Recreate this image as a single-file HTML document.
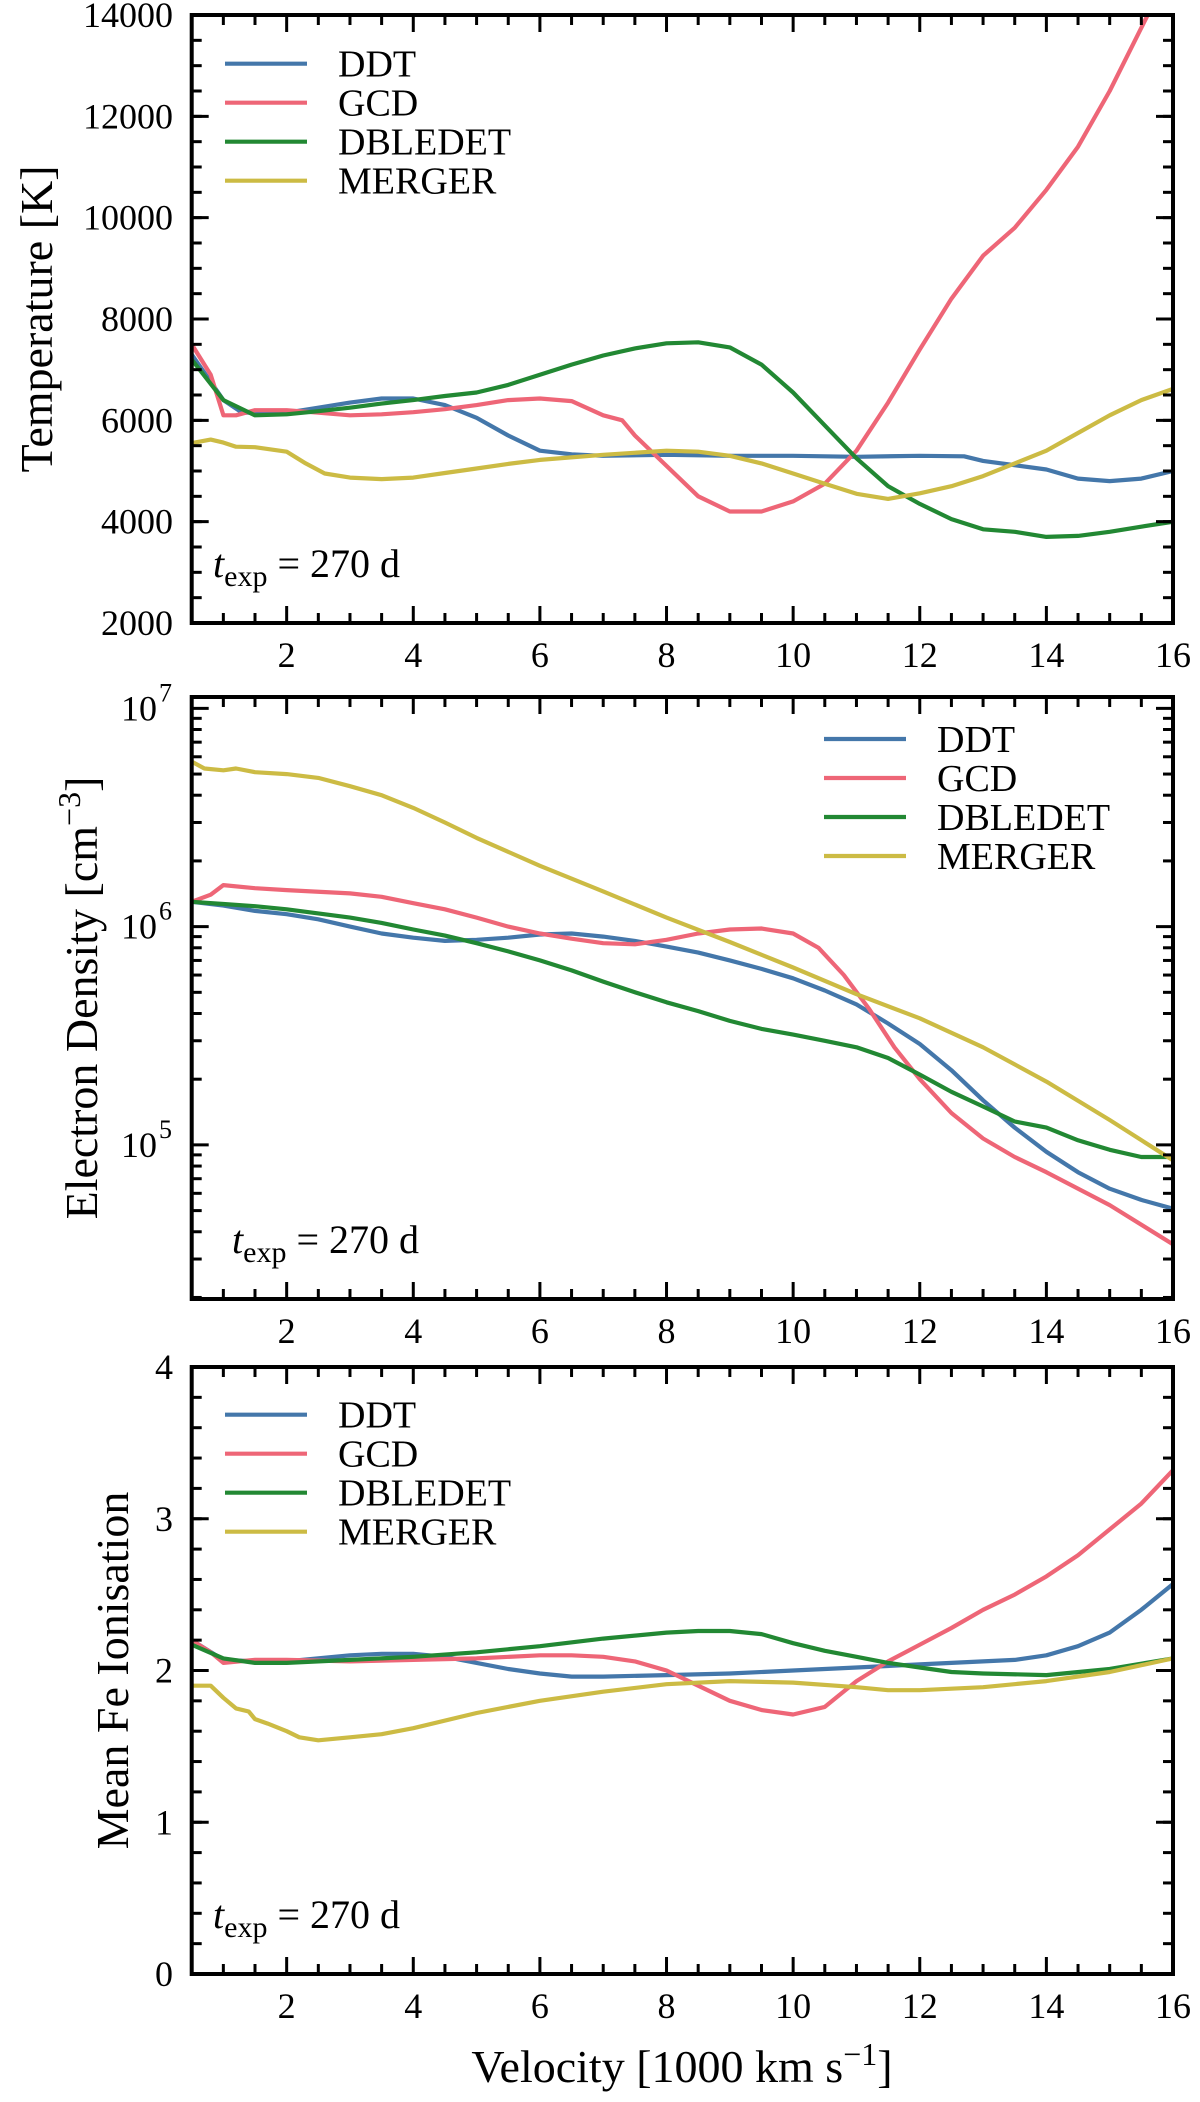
<!DOCTYPE html>
<html><head><meta charset="utf-8"><style>
html,body{margin:0;padding:0;background:#fff}
svg{display:block}
text{font-family:"Liberation Serif","DejaVu Serif",serif;fill:#000}
</style></head><body>
<svg id="fig" width="1200" height="2102" viewBox="0 0 1200 2102" xmlns="http://www.w3.org/2000/svg"></svg>
<script>
// ---- data ----
const seriesNames = ["DDT","GCD","DBLEDET","MERGER"];
const xTicks = [2,4,6,8,10,12,14,16];
const tempTicks = [2000,4000,6000,8000,10000,12000,14000];
const ionTicks = [0,1,2,3,4];
const densTickExps = [5,6,7];

const tempDDT_x=[0.5,1,1.3,2,2.5,3,3.5,4,4.5,5,5.5,6,6.5,7,8,9,10,11,12,12.7,13,14,14.5,15,15.5,16];
const tempDDT_y=[7300,6400,6150,6150,6250,6350,6430,6430,6300,6050,5700,5400,5330,5300,5320,5300,5300,5280,5300,5290,5200,5030,4850,4800,4850,5000];
const tempGCD_x=[0.5,0.8,1,1.2,1.5,2,2.5,3,3.5,4,4.5,5,5.5,6,6.5,7,7.3,7.5,8,8.5,9,9.5,10,10.5,11,11.5,12,12.5,13,13.5,14,14.5,15,15.6];
const tempGCD_y=[7500,6900,6100,6100,6200,6200,6150,6100,6120,6160,6220,6300,6400,6430,6380,6100,6000,5700,5100,4500,4200,4200,4400,4750,5400,6350,7400,8400,9250,9800,10550,11400,12500,14000];
const tempDBL_x=[0.5,1,1.5,2,2.5,3,3.5,4,4.5,5,5.5,6,6.5,7,7.5,8,8.5,9,9.5,10,10.5,11,11.5,12,12.5,13,13.5,14,14.5,15,15.5,16];
const tempDBL_y=[7200,6400,6100,6120,6180,6250,6330,6400,6480,6550,6700,6900,7100,7280,7420,7520,7540,7440,7100,6550,5900,5250,4700,4350,4050,3850,3800,3700,3720,3800,3900,4000];
const tempMER_x=[0.5,0.8,1,1.2,1.5,2,2.3,2.6,3,3.5,4,4.5,5,5.5,6,7,8,8.5,9,9.5,10,10.5,11,11.5,12,12.5,13,13.5,14,14.5,15,15.5,16];
const tempMER_y=[5550,5620,5560,5480,5470,5380,5150,4950,4870,4840,4870,4960,5050,5140,5220,5320,5400,5380,5300,5150,4950,4750,4550,4450,4560,4700,4900,5150,5400,5750,6100,6400,6620];

const densDDT_x=[0.5,1,1.5,2,2.5,3,3.5,4,4.5,5,5.5,6,6.5,7,7.5,8,8.5,9,9.5,10,10.5,11,11.5,12,12.5,13,13.5,14,14.5,15,15.5,16];
const densDDT_y=[1.3e6,1.25e6,1.18e6,1.14e6,1.08e6,1.0e6,9.3e5,8.9e5,8.6e5,8.7e5,8.9e5,9.2e5,9.3e5,9.0e5,8.6e5,8.1e5,7.6e5,7.0e5,6.4e5,5.8e5,5.1e5,4.4e5,3.6e5,2.9e5,2.2e5,1.6e5,1.2e5,9.3e4,7.5e4,6.3e4,5.6e4,5.1e4];
const densGCD_x=[0.5,0.8,1,1.5,2,3,3.5,4,4.5,5,5.5,6,6.5,7,7.5,8,8.5,9,9.5,10,10.4,10.8,11.2,11.6,12,12.5,13,13.5,14,15,16];
const densGCD_y=[1.3e6,1.4e6,1.55e6,1.5e6,1.47e6,1.42e6,1.37e6,1.28e6,1.2e6,1.1e6,1.0e6,9.3e5,8.8e5,8.4e5,8.3e5,8.7e5,9.3e5,9.7e5,9.8e5,9.3e5,8e5,6e5,4.2e5,2.8e5,2.0e5,1.4e5,1.07e5,8.8e4,7.5e4,5.3e4,3.5e4];
const densDBL_x=[0.5,1,1.5,2,2.5,3,3.5,4,4.5,5,5.5,6,6.5,7,7.5,8,8.5,9,9.5,10,10.5,11,11.5,12,12.5,13,13.5,14,14.5,15,15.5,16];
const densDBL_y=[1.3e6,1.27e6,1.24e6,1.2e6,1.15e6,1.1e6,1.04e6,9.7e5,9.1e5,8.4e5,7.7e5,7.0e5,6.3e5,5.6e5,5.0e5,4.5e5,4.1e5,3.7e5,3.4e5,3.2e5,3.0e5,2.8e5,2.5e5,2.1e5,1.75e5,1.5e5,1.28e5,1.2e5,1.05e5,9.5e4,8.8e4,8.8e4];
const densMER_x=[0.5,0.7,1,1.2,1.5,2,2.5,3,3.5,4,4.5,5,6,7,8,9,10,11,12,13,14,15,16];
const densMER_y=[5.7e6,5.3e6,5.2e6,5.3e6,5.1e6,5.0e6,4.8e6,4.4e6,4.0e6,3.5e6,3.0e6,2.55e6,1.9e6,1.45e6,1.1e6,8.5e5,6.5e5,4.9e5,3.8e5,2.8e5,1.95e5,1.3e5,8.5e4];

const ionDDT_x=[0.5,1,1.5,2,2.5,3,3.5,4,4.5,5,5.5,6,6.5,7,8,9,10,11,12,13,13.5,14,14.5,15,15.5,16];
const ionDDT_y=[2.2,2.07,2.06,2.06,2.08,2.1,2.11,2.11,2.09,2.05,2.01,1.98,1.96,1.96,1.97,1.98,2.0,2.02,2.04,2.06,2.07,2.1,2.16,2.25,2.4,2.57];
const ionGCD_x=[0.5,0.8,1,1.5,2,3,4,5,6,6.5,7,7.5,8,8.5,9,9.5,10,10.5,11,11.5,12,12.5,13,13.5,14,14.5,15,15.5,16];
const ionGCD_y=[2.2,2.12,2.05,2.07,2.07,2.06,2.07,2.08,2.1,2.1,2.09,2.06,2.0,1.9,1.8,1.74,1.71,1.76,1.93,2.06,2.17,2.28,2.4,2.5,2.62,2.76,2.93,3.1,3.32];
const ionDBL_x=[0.5,1,1.5,2,3,4,5,6,7,8,8.5,9,9.5,10,10.5,11,11.5,12,12.5,13,14,15,16];
const ionDBL_y=[2.17,2.08,2.05,2.05,2.07,2.09,2.12,2.16,2.21,2.25,2.26,2.26,2.24,2.18,2.13,2.09,2.05,2.02,1.99,1.98,1.97,2.01,2.08];
const ionMER_x=[0.5,0.8,1,1.2,1.4,1.5,1.7,2,2.2,2.5,3,3.5,4,5,6,7,8,9,10,11,11.5,12,13,14,15,16];
const ionMER_y=[1.9,1.9,1.82,1.75,1.73,1.68,1.65,1.6,1.56,1.54,1.56,1.58,1.62,1.72,1.8,1.86,1.91,1.93,1.92,1.89,1.87,1.87,1.89,1.93,1.99,2.08];

// ---- layout ----
const NS="http://www.w3.org/2000/svg";
const svg=document.getElementById('fig');
const colors=["#4477AA","#EE6677","#228833","#CCBB44"];
const XL=191.7, XR=1173, XMIN=0.5, XMAX=16;
function sx(v){return XL+(v-XMIN)/(XMAX-XMIN)*(XR-XL);}
function mk(tag,attrs,parent){const e=document.createElementNS(NS,tag);for(const k in attrs)e.setAttribute(k,attrs[k]);(parent||svg).appendChild(e);return e;}

const panels=[
 {key:'temperature',top:15,bot:623,log:false,ymin:2000,ymax:14000,minor:500,
  xs:[tempDDT_x,tempGCD_x,tempDBL_x,tempMER_x],ys:[tempDDT_y,tempGCD_y,tempDBL_y,tempMER_y],
  legX:225,legY:63.7,label:'Temperature [K]',labX:52,tX:213,tY:577},
 {key:'density',top:697,bot:1299,log:true,ymin:Math.pow(10,4.294),ymax:Math.pow(10,7.052),
  xs:[densDDT_x,densGCD_x,densDBL_x,densMER_x],ys:[densDDT_y,densGCD_y,densDBL_y,densMER_y],
  legX:824,legY:739,label:'Electron Density [cm',labX:97,tX:232,tY:1253},
 {key:'ionisation',top:1367,bot:1974,log:false,ymin:0,ymax:4,minor:0.2,
  xs:[ionDDT_x,ionGCD_x,ionDBL_x,ionMER_x],ys:[ionDDT_y,ionGCD_y,ionDBL_y,ionMER_y],
  legX:225,legY:1414.7,label:'Mean Fe Ionisation',labX:128,tX:213,tY:1928}
];

panels.forEach((p,pi)=>{
  const g=mk('g',{});
  
  
  function sy(v){
    if(p.log){const a=Math.log10(p.ymin),b=Math.log10(p.ymax);return p.bot-(Math.log10(v)-a)/(b-a)*(p.bot-p.top);}
    return p.bot-(v-p.ymin)/(p.ymax-p.ymin)*(p.bot-p.top);
  }
  const cp=mk('clipPath',{id:'clip'+pi},g);
  mk('rect',{x:XL,y:p.top,width:XR-XL,height:p.bot-p.top},cp);
  p.xs.forEach((xa,si)=>{
    const d=xa.map((x,i)=>(i?'L':'M')+sx(x).toFixed(1)+' '+sy(p.ys[si][i]).toFixed(1)).join(' ');
    const path=mk('path',{d:d,fill:'none',stroke:colors[si],'stroke-width':4.2,'stroke-linejoin':'round','clip-path':'url(#clip'+pi+')'},g);
    
    
  });
  for(let v=XMIN;v<=XMAX+1e-9;v+=0.5){
    const major=Math.abs(v/2-Math.round(v/2))<1e-6;
    const L=major?17:10, X=sx(v);
    mk('line',{x1:X,x2:X,y1:p.bot,y2:p.bot-L,stroke:'#000','stroke-width':3},g);
    mk('line',{x1:X,x2:X,y1:p.top,y2:p.top+L,stroke:'#000','stroke-width':3},g);
  }
  xTicks.forEach(v=>{
    const t=mk('text',{x:sx(v),y:p.bot+44,'font-size':36,'text-anchor':'middle'},g);
    t.textContent=v;
    
    
  });
  function ytick(v,major){
    const Y=sy(v),L=major?17:10;
    mk('line',{x1:XL,x2:XL+L,y1:Y,y2:Y,stroke:'#000','stroke-width':3},g);
    mk('line',{x1:XR,x2:XR-L,y1:Y,y2:Y,stroke:'#000','stroke-width':3},g);
  }
  if(p.log){
    for(let e=4;e<=7;e++)for(let m=1;m<=9;m++){const v=m*Math.pow(10,e);if(v>=p.ymin&&v<=p.ymax)ytick(v,m===1);}
    densTickExps.forEach(e=>{
      const t=mk('text',{x:157,y:sy(Math.pow(10,e))+12,'font-size':36,'text-anchor':'end'},g);
      t.textContent='10';
      
      
      const s=mk('text',{x:159,y:sy(Math.pow(10,e))-7,'font-size':26},g);
      s.textContent=e;
    });
  } else {
    for(let v=p.ymin;v<=p.ymax+1e-9;v+=p.minor){ytick(v,false);}
    const ticks=pi===0?tempTicks:ionTicks;
    ticks.forEach(v=>{
      ytick(v,true);
      const t=mk('text',{x:173,y:sy(v)+12,'font-size':36,'text-anchor':'end'},g);
      t.textContent=v;
      
      
    });
  }
  const fr=mk('rect',{x:XL,y:p.top,width:XR-XL,height:p.bot-p.top,fill:'none',stroke:'#000','stroke-width':4},g);
  
  
  const lg=mk('g',{},g);
  
  
  seriesNames.forEach((n,si)=>{
    const Y=p.legY+si*39;
    mk('line',{x1:p.legX,x2:p.legX+82,y1:Y,y2:Y,stroke:colors[si],'stroke-width':4.2},lg);
    const t=mk('text',{x:p.legX+113,y:Y+13,'font-size':38},lg);
    t.textContent=n;
    
    
  });
  const cy=(p.top+p.bot)/2;
  const yl=mk('text',{x:p.labX,y:cy,'font-size':46,'text-anchor':'middle',transform:'rotate(-90 '+p.labX+' '+cy+')'},g);
  
  
  if(p.log){
    yl.appendChild(document.createTextNode('Electron Density [cm'));
    const sup=mk('tspan',{dy:-17,'font-size':32},yl);sup.textContent='−3';
    const cl=mk('tspan',{dy:17},yl);cl.textContent=']';
  } else {
    yl.textContent=p.label;
  }
  const an=mk('text',{x:p.tX,y:p.tY,'font-size':40},g);
  
  
  const ti=mk('tspan',{'font-style':'italic'},an);ti.textContent='t';
  const sb=mk('tspan',{dy:9,'font-size':30},an);sb.textContent='exp';
  const rest=mk('tspan',{dy:-9},an);rest.textContent='  =  270 d';
});
const xt=mk('text',{x:682,y:2082,'font-size':46,'text-anchor':'middle'});


xt.appendChild(document.createTextNode('Velocity [1000 km s'));
const xs1=mk('tspan',{dy:-17,'font-size':32},xt);xs1.textContent='−1';
const xs2=mk('tspan',{dy:17},xt);xs2.textContent=']';
</script>
</body></html>
